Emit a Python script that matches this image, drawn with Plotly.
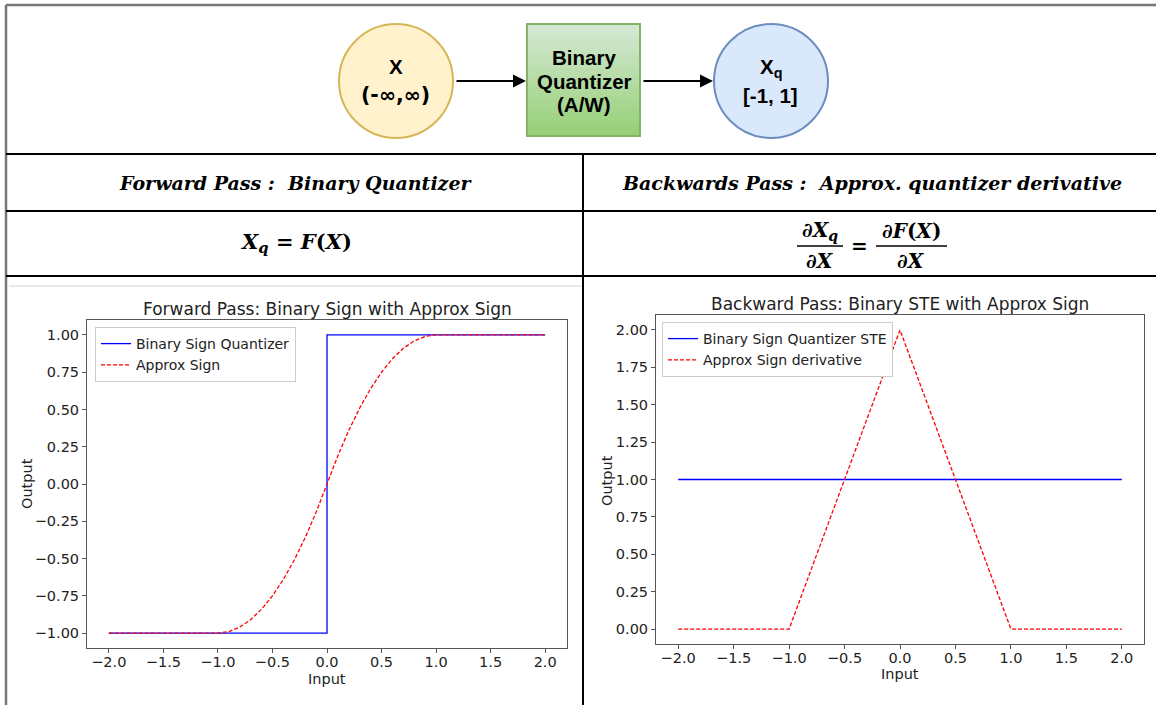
import plotly.graph_objects as go

W, H = 1156, 705

# ---- data ----
x_ticks = [-2.0, -1.5, -1.0, -0.5, 0.0, 0.5, 1.0, 1.5, 2.0]
x_tick_text = ["\u22122.0", "\u22121.5", "\u22121.0", "\u22120.5", "0.0", "0.5", "1.0", "1.5", "2.0"]

fwd_y_ticks = [-1.0, -0.75, -0.5, -0.25, 0.0, 0.25, 0.5, 0.75, 1.0]
fwd_y_text = ["\u22121.00", "\u22120.75", "\u22120.50", "\u22120.25", "0.00", "0.25", "0.50", "0.75", "1.00"]

bwd_y_ticks = [0.0, 0.25, 0.5, 0.75, 1.0, 1.25, 1.5, 1.75, 2.0]
bwd_y_text = ["0.00", "0.25", "0.50", "0.75", "1.00", "1.25", "1.50", "1.75", "2.00"]

sign_x = [-2.0, 0.0, 0.0, 2.0]
sign_y = [-1.0, -1.0, 1.0, 1.0]

approx_x = [-2.0, -1.0, -0.9, -0.8, -0.7, -0.6, -0.5, -0.4, -0.3, -0.2, -0.1, 0.0,
            0.1, 0.2, 0.3, 0.4, 0.5, 0.6, 0.7, 0.8, 0.9, 1.0, 2.0]
approx_y = [-1.0, -1.0, -0.99, -0.96, -0.91, -0.84, -0.75, -0.64, -0.51, -0.36, -0.19, 0.0,
            0.19, 0.36, 0.51, 0.64, 0.75, 0.84, 0.91, 0.96, 0.99, 1.0, 1.0]

ste_x = [-2.0, 2.0]
ste_y = [1.0, 1.0]

deriv_x = [-2.0, -1.0, 0.0, 1.0, 2.0]
deriv_y = [0.0, 0.0, 2.0, 0.0, 0.0]


def fx(p):
    return p / W


def fy(p):
    return 1 - p / H


fig = go.Figure()

BLUE, RED = "#0000ff", "#ff0000"

fig.add_trace(go.Scatter(x=sign_x, y=sign_y, mode="lines", name="Binary Sign Quantizer",
                         line=dict(color=BLUE, width=1.3), xaxis="x", yaxis="y", legend="legend"))
fig.add_trace(go.Scatter(x=approx_x, y=approx_y, mode="lines", name="Approx Sign",
                         line=dict(color=RED, width=1.3, dash="4px,2px"), xaxis="x", yaxis="y",
                         legend="legend"))
fig.add_trace(go.Scatter(x=ste_x, y=ste_y, mode="lines", name="Binary Sign Quantizer STE",
                         line=dict(color=BLUE, width=1.3), xaxis="x2", yaxis="y2", legend="legend2"))
fig.add_trace(go.Scatter(x=deriv_x, y=deriv_y, mode="lines", name="Approx Sign derivative",
                         line=dict(color=RED, width=1.3, dash="4px,2px"), xaxis="x2", yaxis="y2",
                         legend="legend2"))

DV = "DejaVu Sans"
tick_font = dict(family=DV, size=14.5, color="#222")
axis_common = dict(showline=True, mirror=True, linecolor="#555", linewidth=1,
                   ticks="outside", ticklen=4, tickcolor="#555", tickwidth=1,
                   showgrid=False, zeroline=False, tickfont=tick_font, fixedrange=True)

legend_common = dict(xanchor="left", yanchor="top", bgcolor="white",
                     bordercolor="#cccccc", borderwidth=1,
                     font=dict(family=DV, size=14, color="#222"),
                     itemwidth=30, tracegroupgap=0)

fig.update_layout(
    width=W, height=H,
    margin=dict(l=0, r=0, t=0, b=0),
    paper_bgcolor="white", plot_bgcolor="white",
    xaxis=dict(domain=[fx(87), fx(567)], range=[-2.2, 2.2], anchor="y",
               tickvals=x_ticks, ticktext=x_tick_text, ticklabelstandoff=-3, **axis_common),
    yaxis=dict(domain=[fy(648), fy(320)], range=[-1.1, 1.1], anchor="x",
               tickvals=fwd_y_ticks, ticktext=fwd_y_text, **axis_common),
    xaxis2=dict(domain=[fx(656), fx(1144)], range=[-2.2, 2.2], anchor="y2",
                tickvals=x_ticks, ticktext=x_tick_text, ticklabelstandoff=-3, **axis_common),
    yaxis2=dict(domain=[fy(644), fy(315)], range=[-0.1, 2.1], anchor="x2",
                tickvals=bwd_y_ticks, ticktext=bwd_y_text, **axis_common),
    legend=dict(x=fx(95), y=fy(327), **legend_common),
    legend2=dict(x=fx(662), y=fy(322), **legend_common),
    showlegend=True,
)

shapes = []


def line(x0, y0, x1, y1, color="black", width=2):
    shapes.append(dict(type="line", xref="paper", yref="paper",
                       x0=fx(x0), y0=fy(y0), x1=fx(x1), y1=fy(y1),
                       line=dict(color=color, width=width), layer="above"))


# frame and table grid
line(6, 5, W, 5, "#777", 2.5)
line(6, 5, 6, H, "#777", 2.5)
line(6, 154, W, 154, "black", 2)
line(6, 211, W, 211, "black", 2)
line(6, 276, W, 276, "black", 2)
line(583, 154, 583, H, "black", 2)
line(9, 286, 581, 286, "#d4d4d4", 1)

# flow diagram: input node
shapes.append(dict(type="circle", xref="paper", yref="paper",
                   x0=fx(339), x1=fx(453), y0=fy(138), y1=fy(24),
                   fillcolor="#fff2cc", line=dict(color="#d6b656", width=2)))
# quantizer block with vertical gradient
top_c = (0xd5, 0xe8, 0xd4)
bot_c = (0x97, 0xd0, 0x77)
n_strips = 28
bx0, bx1, by0, by1 = 527, 640, 24, 136
for i in range(n_strips):
    t = i / (n_strips - 1)
    c = tuple(round(top_c[k] + (bot_c[k] - top_c[k]) * t) for k in range(3))
    ya = by0 + (by1 - by0) * i / n_strips
    yb = by0 + (by1 - by0) * (i + 1) / n_strips + 0.6
    shapes.append(dict(type="rect", xref="paper", yref="paper",
                       x0=fx(bx0), x1=fx(bx1), y0=fy(min(yb, by1)), y1=fy(ya),
                       fillcolor="rgb(%d,%d,%d)" % c, line=dict(width=0)))
shapes.append(dict(type="rect", xref="paper", yref="paper",
                   x0=fx(bx0), x1=fx(bx1), y0=fy(by1), y1=fy(by0),
                   line=dict(color="#82b366", width=2)))
# output node
shapes.append(dict(type="circle", xref="paper", yref="paper",
                   x0=fx(714), x1=fx(828), y0=fy(138), y1=fy(24),
                   fillcolor="#dae8fc", line=dict(color="#6c8ebf", width=2)))

# fraction bars
line(797, 246, 843, 246, "black", 1.6)
line(876, 246, 947, 246, "black", 1.6)

fig.update_layout(shapes=shapes)

ann = []


def text(x, y, s, size, family="Liberation Sans", color="black", angle=0):
    ann.append(dict(x=fx(x), y=fy(y), xref="paper", yref="paper", text=s,
                    showarrow=False, xanchor="center", yanchor="middle",
                    font=dict(family=family, size=size, color=color), textangle=angle))


def arrow(x_tail, x_tip, y):
    ann.append(dict(x=fx(x_tip), y=fy(y), xref="paper", yref="paper",
                    ax=x_tail - x_tip, ay=0, axref="pixel", ayref="pixel",
                    text="", showarrow=True, arrowhead=2, arrowsize=1.3,
                    arrowwidth=2, arrowcolor="black"))


# flow diagram labels
text(396, 66, "<b>X</b>", 20.5)
text(396, 95, "<b>(-\u221e,\u221e)</b>", 20.5, "DejaVu Sans")
text(584, 57, "<b>Binary</b>", 20.5)
text(584, 81, "<b>Quantizer</b>", 20.5)
text(584, 104, "<b>(A/W)</b>", 20.5)
text(771, 68, "<b>X<sub>q</sub></b>", 20.5)
text(771, 96, "<b>[-1, 1]</b>", 20.5)
arrow(455, 526, 81)
arrow(642, 713, 81)

# table headers and formulas
SERIF = "DejaVu Serif"
text(295, 183, "<b><i>Forward Pass :\u00a0 Binary Quantizer</i></b>", 19, SERIF)
text(872, 183, "<b><i>Backwards Pass :\u00a0 Approx. quantizer derivative</i></b>", 19, SERIF)
text(296, 243, "<b><i>X</i><sub><i>q</i></sub> = <i>F</i>(<i>X</i>)</b>", 21, SERIF)
text(820, 231, "<b>\u2202<i>X</i><sub><i>q</i></sub></b>", 20, SERIF)
text(820, 261, "<b>\u2202<i>X</i></b>", 20, SERIF)
text(859, 246, "<b>=</b>", 20, SERIF)
text(911, 231, "<b>\u2202<i>F</i>(<i>X</i>)</b>", 20, SERIF)
text(911, 261, "<b>\u2202<i>X</i></b>", 20, SERIF)

# chart titles and axis labels
text(327, 309, "Forward Pass: Binary Sign with Approx Sign", 17, DV, "#222")
text(900, 304, "Backward Pass: Binary STE with Approx Sign", 17, DV, "#222")
text(327, 679, "Input", 14.5, DV, "#222")
text(900, 674, "Input", 14.5, DV, "#222")
text(27, 484, "Output", 14.5, DV, "#222", -90)
text(607, 481, "Output", 14.5, DV, "#222", -90)

fig.update_layout(annotations=ann)

fig.write_html("out.html")
